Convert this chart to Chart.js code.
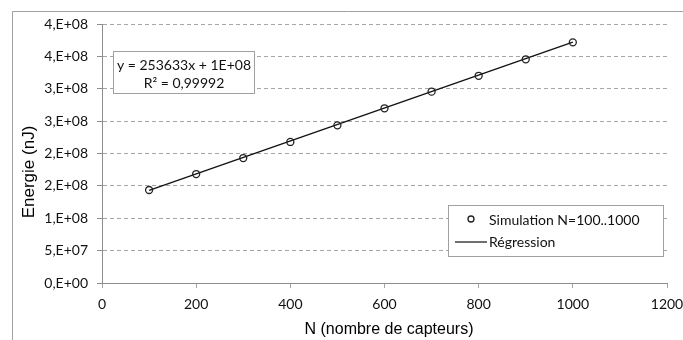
<!DOCTYPE html>
<html>
<head>
<meta charset="utf-8">
<script src="https://cdn.jsdelivr.net/npm/chart.js@4.4.0/dist/chart.umd.min.js"></script>
<style>
  html, body { margin: 0; padding: 0; background: #fff; }
  #wrap { width: 683px; height: 340px; position: relative; }
</style>
</head>
<body>
<div id="wrap"><canvas id="myChart" width="683" height="340"></canvas></div>
<script>
// valeurs
const nCapteurs = [100, 200, 300, 400, 500, 600, 700, 800, 900, 1000];
const energieSim = [1.436e8, 1.683e8, 1.93e8, 2.178e8, 2.435e8, 2.698e8, 2.955e8, 3.2e8, 3.455e8, 3.717e8];
const regX = [100, 1000];
const regY = [1.43e8, 3.72e8];
const yTickLabels = ["0,E+00", "5,E+07", "1,E+08", "2,E+08", "2,E+08", "3,E+08", "3,E+08", "4,E+08", "4,E+08"];
const xTickLabels = ["0", "200", "400", "600", "800", "1000", "1200"];
const equationText = ["y = 253633x + 1E+08", "R\u00b2 = 0,99992"];
const legendLabels = ["Simulation N=100..1000", "R\u00e9gression"];

const tickFont = { family: "Lato", size: 14 };
const gridGray = "#a6a6a6";

// cadre exterieur, titres des axes, equation et legende
const decorPlugin = {
  id: "decor",
  beforeDraw: (chart) => {
    const c = chart.ctx;
    c.save();
    c.strokeStyle = "#a0a0a0";
    c.lineWidth = 1;
    c.beginPath();
    c.moveTo(12.5, 340);
    c.lineTo(12.5, 11.5);
    c.lineTo(683, 11.5);
    c.stroke();
    c.restore();
  },
  afterDraw: (chart) => {
    const c = chart.ctx;
    c.save();
    c.fillStyle = "#000";
    c.font = "16px 'Liberation Sans', Arial";
    c.textAlign = "center";
    c.textBaseline = "middle";
    c.fillText("N (nombre de capteurs)", 389, 330);
    c.translate(29, 172);
    c.rotate(-Math.PI / 2);
    c.font = "17px 'Liberation Sans', Arial";
    c.fillText("Energie (nJ)", 0, 0);
    c.restore();

    // boite de l'equation
    c.save();
    c.fillStyle = "#fff";
    c.strokeStyle = "#a0a0a0";
    c.fillRect(113, 51, 141, 42);
    c.strokeRect(113.5, 51.5, 141, 42);
    c.fillStyle = "#111";
    c.font = "14px Lato";
    c.textAlign = "center";
    c.textBaseline = "middle";
    c.fillText(equationText[0], 184, 65);
    c.fillText(equationText[1], 184, 83);
    c.restore();

    // legende
    c.save();
    c.fillStyle = "#fff";
    c.strokeStyle = "#a0a0a0";
    c.fillRect(448, 205, 215, 51);
    c.strokeRect(448.5, 205.5, 215, 51);
    c.strokeStyle = "#222";
    c.lineWidth = 1.3;
    c.beginPath();
    c.arc(471, 219, 3, 0, Math.PI * 2);
    c.stroke();
    c.beginPath();
    c.moveTo(455, 242);
    c.lineTo(487, 242);
    c.stroke();
    c.fillStyle = "#111";
    c.font = "14px Lato";
    c.textBaseline = "middle";
    c.fillText(legendLabels[0], 489, 220);
    c.fillText(legendLabels[1], 489, 242);
    c.restore();
  },
};

const ctx = document.getElementById("myChart");

const grafico = new Chart(ctx, {
  type: "scatter",
  data: {
    datasets: [
      {
        label: legendLabels[0],
        data: nCapteurs.map((n, i) => ({ x: n, y: energieSim[i] })),
        pointStyle: "circle",
        pointRadius: 3.5,
        pointBorderWidth: 1.3,
        borderColor: "#222",
        backgroundColor: "rgba(0,0,0,0)",
        showLine: false,
        order: 1,
      },
      {
        label: legendLabels[1],
        data: regX.map((n, i) => ({ x: n, y: regY[i] })),
        showLine: true,
        borderColor: "#111",
        borderWidth: 1.3,
        pointRadius: 0,
        order: 2,
      },
    ],
  },
  plugins: [decorPlugin],
  options: {
    responsive: false,
    animation: false,
    events: [],
    layout: { padding: { left: 0, top: 24, right: 16, bottom: 0 } },
    scales: {
      x: {
        type: "linear",
        min: 0,
        max: 1200,
        afterFit: (scale) => {
          scale.height = 57;
          scale.paddingLeft = 0;
          scale.paddingRight = 0;
        },
        ticks: {
          stepSize: 200,
          color: "#111",
          font: tickFont,
          padding: 8,
          callback: (value, index) => xTickLabels[index],
        },
        grid: { drawOnChartArea: false, drawTicks: true, tickLength: 5, color: gridGray },
        border: { color: "#8c8c8c", width: 1 },
      },
      y: {
        min: 0,
        max: 4e8,
        afterFit: (scale) => {
          scale.width = 102;
          scale.paddingTop = 0;
          scale.paddingBottom = 0;
        },
        ticks: {
          stepSize: 5e7,
          color: "#111",
          font: tickFont,
          padding: 9,
          callback: (value, index) => yTickLabels[index],
        },
        grid: { color: gridGray, tickLength: 5, tickColor: "#8c8c8c" },
        border: { color: "#8c8c8c", width: 1, dash: [4, 3] },
      },
    },
    plugins: {
      legend: { display: false },
      tooltip: { enabled: false },
    },
  },
});
grafico.update();
</script>
</body>
</html>
